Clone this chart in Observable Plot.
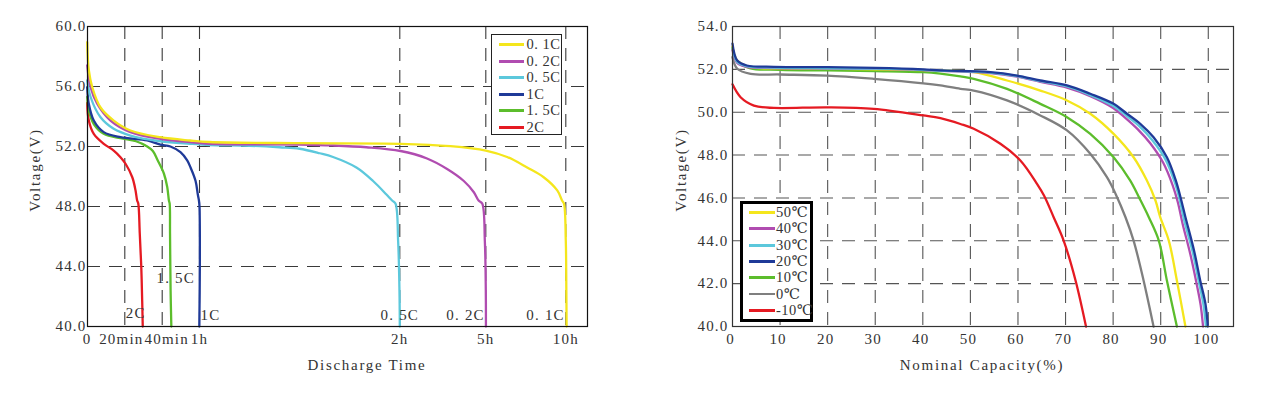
<!DOCTYPE html>
<html>
<head>
<meta charset="utf-8">
<script src="https://cdn.jsdelivr.net/npm/d3@7"></script>
<script src="https://cdn.jsdelivr.net/npm/@observablehq/plot@0.6"></script>
<style>
  body { margin: 0; background: #fff; }
  #wrap { position: relative; width: 1265px; height: 393px; overflow: hidden;
          font-family: "Liberation Serif", "DejaVu Serif", serif; color: #333; }
  .panel { position: absolute; top: 0; }
  .title { position: absolute; font-size: 15px; letter-spacing: 1.7px; white-space: nowrap; color: #333; }
  .ytitle { transform: translate(-50%, -50%) rotate(-90deg); }
  .xtitle { transform: translate(-50%, -50%); }
  .legend { position: absolute; background: #fff; box-sizing: border-box; }
  .row { position: absolute; left: 0; height: 16px; white-space: nowrap; }
  .sw { position: absolute; height: 3px; }
  .lab { position: absolute; top: 0; font-size: 14.5px; line-height: 16px; color: #333; letter-spacing: 0.5px; }
</style>
</head>
<body>
<div id="wrap"></div>
<script>
// ---------- Left chart: discharge curves at different rates ----------
const leftSeries = ["0. 1C", "0. 2C", "0. 5C", "1C", "1. 5C", "2C"];
const leftColors = ["#f4e61c", "#b04cb0", "#5cc8dc", "#1f3a98", "#5cbd2c", "#e51a22"];
// [time in minutes, voltage V]
const c01 = [[0,58.95],[0.85,57.1],[2.7,55.95],[7.1,54.6],[14.1,53.73],[23,53.07],[39,52.62],[55,52.4],[63,52.3],[90,52.22],[121.5,52.18],[226,52.02],[300,51.73],[380,51.3],[455,50.6],[517,49.95],[568,49.07],[586,48.4],[593,48.2],[600,45.7],[602,42.4],[603,40]];
const c02 = [[0,57.4],[1.8,55.95],[5.3,54.85],[12.4,53.73],[23,52.96],[39,52.51],[55,52.29],[63,52.18],[90,52.13],[100,52.07],[110,51.95],[121.5,51.7],[177,51.2],[219,50.5],[254,49.7],[275,48.95],[285,48.4],[292.5,48.2],[298,45.7],[300,42.4],[300.5,40]];
const c05 = [[0,56.4],[1.8,55.3],[7.1,53.95],[14.1,53.18],[23,52.73],[39,52.35],[55,52.18],[63,52.1],[75,52.05],[84,51.95],[90,51.85],[96,51.55],[100,51.3],[107,50.6],[112,49.7],[116,48.8],[117.7,48.4],[118.7,48.2],[119.5,45.7],[119.9,42.4],[120,40]];
const c1 = [[0,55.95],[0.85,54.85],[3.5,53.73],[8.8,52.96],[17.7,52.62],[32,52.4],[39,52.13],[44.4,52.0],[49.8,51.62],[53.4,51.07],[55.2,50.6],[57.9,49.7],[59.1,48.8],[59.7,48.4],[60,48],[60.1,44],[59.9,40]];
const c15 = [[0,55.3],[0.85,54.4],[3.5,53.5],[8.8,52.85],[17.7,52.55],[26,52.35],[32,52.0],[35,51.7],[37.5,51.1],[40.9,50.2],[42.7,49.3],[43.6,48.4],[44,48.2],[44.2,46.2],[44.5,42.4],[44.9,40]];
const c2 = [[0,54.9],[0.85,53.73],[3.5,52.84],[8.8,52.18],[14.1,51.73],[17.7,51.29],[20.4,50.85],[24,49.95],[25.7,49.1],[26.6,48.4],[27.2,48.2],[28,46.2],[28.8,44],[29.3,41.7],[29.6,40]];
const leftCurves = [c01, c02, c05, c1, c15, c2];

const timeBreaks = [0, 20, 40, 60, 120, 300, 600, 681];
const leftTickTimes = [0, 20, 40, 60, 120, 300, 600];
const leftTickLabels = ["0", "20min", "40min", "1h", "2h", "5h", "10h"];
const leftGridTimes = [20, 40, 60, 120, 300, 600];
const leftTickVolts = [40, 44, 48, 52, 56, 60];
const leftGridVolts = [44, 48, 52, 56];
const leftInline = [
  {label: "2C", t: 20, v: 40.9, anchor: "start"},
  {label: "1. 5C", t: 36.4, v: 43.2, anchor: "start"},
  {label: "1C", t: 60, v: 40.75, anchor: "start"},
  {label: "0. 5C", t: 120, v: 40.75, anchor: "middle"},
  {label: "0. 2C", t: 300, v: 40.75, anchor: "end"},
  {label: "0. 1C", t: 600, v: 40.75, anchor: "end"}
];

// ---------- Right chart: capacity at different temperatures ----------
const rightSeries = ["50℃", "40℃", "30℃", "20℃", "10℃", "0℃", "-10℃"];
const rightColors = ["#f4e61c", "#b04cb0", "#5cc8dc", "#1f3a98", "#5cbd2c", "#7f7f7f", "#e51a22"];
// [nominal capacity %, voltage V]
const t50 = [[0,53.05],[1,52.41],[3.8,52.1],[10,52.05],[20,52.03],[30,52.0],[40,51.97],[43.7,51.95],[50.7,51.87],[57.7,51.48],[64.7,51.01],[70.3,50.55],[75.2,49.93],[80.1,48.99],[84.3,47.9],[87.1,46.81],[88.9,45.88],[89.9,45.1],[91.7,44.01],[93.4,42.15],[95.2,40]];
const t40 = [[0,52.9],[1,52.3],[3,52.12],[8.7,52.06],[20,52.04],[30,52.02],[40,51.97],[43.7,51.93],[54.2,51.83],[59.8,51.66],[64.7,51.42],[70.3,51.15],[75.2,50.75],[80,50.2],[82.5,49.75],[85.2,49.2],[87.8,48.55],[90.5,47.65],[92.5,46.6],[93.6,45.8],[94.6,44.8],[96.2,43.4],[97.5,42.05],[98.4,41.0],[98.9,40]];
const t30 = [[0,53.0],[1,52.35],[3,52.15],[8.7,52.08],[20,52.05],[30,52.03],[40,51.98],[43.7,51.94],[54.2,51.85],[59.8,51.69],[64.7,51.45],[70.3,51.2],[75.2,50.8],[80,50.3],[82.7,49.85],[85.5,49.35],[88.2,48.7],[91,47.8],[93,46.7],[94,45.9],[95,44.9],[96.7,43.5],[98,42.1],[99,41.0],[99.5,40]];
const t20 = [[0,53.2],[1,52.41],[3,52.18],[8.7,52.12],[20,52.1],[30,52.07],[40,52.0],[43.7,51.95],[54.2,51.87],[59.8,51.71],[64.7,51.48],[70.3,51.25],[75.2,50.86],[80.1,50.39],[82.9,49.93],[85.7,49.46],[88.5,48.83],[91.3,47.9],[93.2,46.8],[94.2,46.0],[95.2,45.1],[97,43.55],[98.3,42.15],[99.4,41.06],[99.9,40]];
const t10 = [[0,53.0],[1,52.35],[3.8,52.05],[10,51.98],[19.9,51.95],[30,51.92],[40.1,51.87],[43.7,51.8],[47.9,51.67],[50.7,51.56],[57.7,51.09],[64.7,50.39],[70.3,49.77],[75.2,48.99],[80.1,47.9],[83.6,46.81],[85.5,46.0],[87.5,45.1],[89.6,44.01],[91.3,42.15],[93.4,40]];
const t0 = [[0,52.57],[1,52.03],[3.8,51.79],[10,51.76],[19.9,51.71],[29.7,51.56],[40.1,51.35],[43.7,51.25],[47.9,51.09],[50.7,51.01],[57.7,50.55],[64.7,49.85],[70.3,49.15],[75.2,48.06],[78.7,46.97],[80.5,46.2],[82.6,45.1],[84.3,44.01],[86.4,42.15],[88.5,40]];
const tm10 = [[0,51.3],[1.7,50.7],[4.5,50.31],[8.7,50.2],[19.9,50.23],[29.7,50.16],[40.1,49.85],[43.7,49.72],[47.9,49.45],[50.7,49.23],[56.3,48.53],[60.5,47.75],[64,46.66],[65.5,46.1],[67.5,45.1],[69.6,44.01],[72.1,42.15],[74.3,40]];
const rightCurves = [t50, t40, t30, t20, t10, t0, tm10];

const rightTickCaps = [0, 10, 20, 30, 40, 50, 60, 70, 80, 90, 100];
const rightGridCaps = [10, 20, 30, 40, 50, 60, 70, 80, 90, 100];
const rightTickVolts = [40, 42, 44, 46, 48, 50, 52, 54];
const rightGridVolts = [42, 44, 46, 48, 50, 52];

// ---------- build tables ----------
const leftData = leftSeries.flatMap((s, i) => leftCurves[i].map(([t, v]) => ({s, t, v}))).reverse();
const rightOrder = ["-10℃", "0℃", "10℃", "50℃", "40℃", "30℃", "20℃"];
const rightData = rightOrder.flatMap(s => rightCurves[rightSeries.indexOf(s)].map(([c, v]) => ({s, c, v})));

const baseStyle = {
  fontFamily: "'Liberation Serif', 'DejaVu Serif', serif",
  fontSize: "15px",
  letterSpacing: "1.2px",
  color: "#333",
  background: "transparent",
  overflow: "visible"
};
const dash = "13,9";
const fmtTime = d => leftTickLabels[leftTickTimes.indexOf(d)];
const xTickOpts = {tickSize: 0, tickPadding: 7, label: null};

const leftPlot = Plot.plot({
  width: 640, height: 393,
  marginLeft: 87, marginRight: 53, marginTop: 26, marginBottom: 67,
  style: baseStyle,
  x: {type: "linear", domain: timeBreaks, range: [86.7, 124.3, 161.7, 199, 399.3, 485.3, 565.3, 587]},
  y: {domain: [40, 60]},
  color: {domain: leftSeries, range: leftColors},
  marks: [
    Plot.gridX(leftGridTimes, {stroke: "#3a3a3a", strokeOpacity: 1, strokeWidth: 1.1, strokeDasharray: dash}),
    Plot.gridY(leftGridVolts, {stroke: "#3a3a3a", strokeOpacity: 1, strokeWidth: 1.1, strokeDasharray: dash}),
    Plot.line(leftData, {x: "t", y: "v", z: "s", stroke: "s", strokeWidth: 2.3, curve: "catmull-rom"}),
    Plot.frame({stroke: "#111", strokeWidth: 1.2}),
    Plot.axisX(leftTickTimes.filter(d => d !== 20 && d !== 40), {...xTickOpts, tickFormat: fmtTime}),
    Plot.axisX([20], {...xTickOpts, tickFormat: fmtTime, dx: -3.5}),
    Plot.axisX([40], {...xTickOpts, tickFormat: fmtTime, dx: 4.5}),
    Plot.axisY(leftTickVolts, {tickSize: 0, tickPadding: 1, label: null, tickFormat: d => d.toFixed(1)}),
    Plot.text(leftInline.filter(d => d.anchor === "start"), {x: "t", y: "v", text: "label", textAnchor: "start", dx: 1, fill: "#333"}),
    Plot.text(leftInline.filter(d => d.anchor === "middle"), {x: "t", y: "v", text: "label", textAnchor: "middle", fill: "#333"}),
    Plot.text(leftInline.filter(d => d.anchor === "end"), {x: "t", y: "v", text: "label", textAnchor: "end", dx: -1, fill: "#333"})
  ]
});

const rightPlot = Plot.plot({
  width: 625, height: 393,
  marginLeft: 92, marginRight: 32, marginTop: 26, marginBottom: 67,
  style: baseStyle,
  x: {domain: [0, 105.3]},
  y: {domain: [40, 54]},
  color: {domain: rightSeries, range: rightColors},
  marks: [
    Plot.gridX(rightGridCaps, {stroke: "#555", strokeOpacity: 1, strokeWidth: 1.1, strokeDasharray: dash}),
    Plot.gridY(rightGridVolts, {stroke: "#555", strokeOpacity: 1, strokeWidth: 1.1, strokeDasharray: dash}),
    Plot.line(rightData, {x: "c", y: "v", z: "s", stroke: "s", strokeWidth: 2.3, curve: "catmull-rom"}),
    Plot.frame({stroke: "#333", strokeWidth: 1.2}),
    Plot.axisX(rightTickCaps, {...xTickOpts, dx: -2}),
    Plot.axisY(rightTickVolts, {tickSize: 0, tickPadding: 4, label: null, tickFormat: d => d.toFixed(1)})
  ]
});

const wrap = document.getElementById("wrap");
function place(el, left) { el.classList.add("panel"); el.style.left = left + "px"; wrap.appendChild(el); }
place(leftPlot, 0);
place(rightPlot, 640);

function addText(txt, cls, x, y) {
  const d = document.createElement("div");
  d.className = "title " + cls;
  d.textContent = txt;
  d.style.left = x + "px"; d.style.top = y + "px";
  wrap.appendChild(d);
}
addText("Voltage(V)", "ytitle", 35, 170);
addText("Discharge Time", "xtitle", 367, 365);
addText("Voltage(V)", "ytitle", 681, 170);
addText("Nominal Capacity(%)", "xtitle", 982, 365);

function addLegend(series, colors, box, rowStart, rowStep, swLeft, swWidth, labLeft, widths) {
  const lg = document.createElement("div");
  lg.className = "legend";
  Object.assign(lg.style, box);
  series.forEach((s, i) => {
    const r = document.createElement("div");
    r.className = "row";
    r.style.top = (rowStart + i * rowStep - 8) + "px";
    r.style.width = "100%";
    const sw = document.createElement("div");
    sw.className = "sw";
    sw.style.left = swLeft + "px"; sw.style.width = swWidth + "px";
    sw.style.top = "7px"; sw.style.background = colors[i];
    sw.style.height = (widths ? widths[i] : 3) + "px";
    const lab = document.createElement("div");
    lab.className = "lab";
    lab.style.left = labLeft + "px";
    lab.textContent = s;
    r.appendChild(sw); r.appendChild(lab);
    lg.appendChild(r);
  });
  wrap.appendChild(lg);
}
addLegend(leftSeries, leftColors,
  {left: "491px", top: "34px", width: "71px", height: "101px", border: "1.5px solid #222"},
  9, 16.5, 6.5, 25, 34.5);
addLegend(rightSeries, rightColors,
  {left: "740px", top: "201px", width: "73px", height: "121px", border: "3px solid #000"},
  8, 16.3, 6, 26, 33, [3, 3, 3, 3, 3, 2, 3]);
</script>
</body>
</html>
